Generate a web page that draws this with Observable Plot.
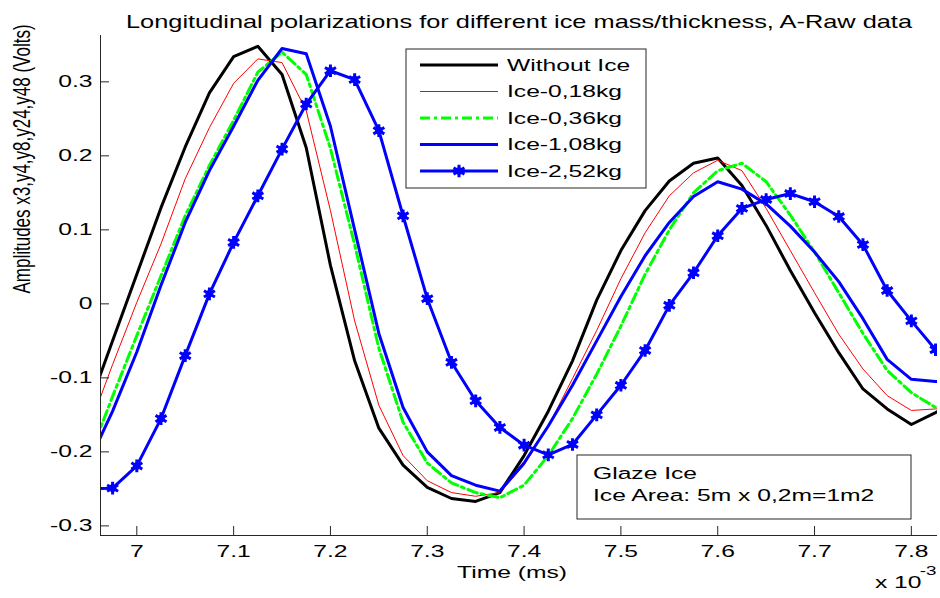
<!DOCTYPE html>
<html><head><meta charset="utf-8">
<script src="https://cdn.jsdelivr.net/npm/d3@7"></script>
<script src="https://cdn.jsdelivr.net/npm/@observablehq/plot@0.6"></script>
<style>
html,body{margin:0;padding:0;background:#fff;}
#chart{width:940px;height:598px;position:relative;}
</style></head><body><div id="chart"></div>
<script>
// ---- data (time in ms-scale units ×10^-3, amplitude in Volts) ----
const times = [6.95,6.975,7,7.025,7.05,7.075,7.1,7.125,7.15,7.175,7.2,7.225,7.25,7.275,7.3,7.325,7.35,7.375,7.4,7.425,7.45,7.475,7.5,7.525,7.55,7.575,7.6,7.625,7.65,7.675,7.7,7.725,7.75,7.775,7.8,7.825,7.85];
const withoutIce = [-0.14,-0.05,0.04,0.13,0.212,0.285,0.334,0.348,0.31,0.211,0.052,-0.077,-0.168,-0.218,-0.248,-0.263,-0.267,-0.255,-0.205,-0.145,-0.077,0.005,0.072,0.126,0.166,0.19,0.197,0.16,0.106,0.045,-0.012,-0.066,-0.115,-0.142,-0.163,-0.147,-0.13];
const ice018 = [-0.17,-0.082,0.002,0.081,0.169,0.238,0.298,0.331,0.326,0.261,0.126,-0.023,-0.137,-0.205,-0.239,-0.255,-0.26,-0.255,-0.218,-0.165,-0.101,-0.036,0.034,0.096,0.146,0.177,0.194,0.18,0.129,0.072,0.015,-0.041,-0.088,-0.124,-0.144,-0.142,-0.14];
const ice036 = [-0.21,-0.125,-0.043,0.038,0.119,0.187,0.248,0.313,0.34,0.31,0.21,0.08,-0.06,-0.16,-0.215,-0.242,-0.255,-0.262,-0.245,-0.205,-0.155,-0.095,-0.03,0.04,0.1,0.15,0.18,0.19,0.165,0.12,0.07,0.015,-0.04,-0.09,-0.12,-0.14,-0.15];
const ice108 = [-0.215,-0.145,-0.065,0.025,0.11,0.18,0.24,0.302,0.345,0.338,0.24,0.1,-0.04,-0.14,-0.2,-0.232,-0.245,-0.253,-0.215,-0.165,-0.11,-0.05,0.01,0.065,0.11,0.145,0.165,0.155,0.135,0.105,0.07,0.03,-0.02,-0.075,-0.102,-0.105,-0.105];
const ice252 = [-0.25,-0.249,-0.219,-0.155,-0.07,0.0135,0.083,0.146,0.209,0.27,0.315,0.303,0.234,0.119,0.007,-0.079,-0.131,-0.167,-0.191,-0.204,-0.19,-0.15,-0.11,-0.063,-0.002,0.042,0.092,0.129,0.141,0.149,0.138,0.118,0.08,0.018,-0.023,-0.062,-0.09];

const seriesNames = ["Without Ice","Ice-0,18kg","Ice-0,36kg","Ice-1,08kg","Ice-2,52kg"];
const seriesColors = ["#000000","#ff0000","#00ff00","#0000ff","#0000ff"];
const seriesWidths = [3,1,3,3,3];
const seriesDash = [null,null,"10,4,3,4",null,null];
const xTicks = [7,7.1,7.2,7.3,7.4,7.5,7.6,7.7,7.8];
const yTicks = [-0.3,-0.2,-0.1,0,0.1,0.2,0.3];
const xDomain = [6.9625,7.827];
const yDomain = [-0.313,0.3626];
const titleText = "Longitudinal polarizations for different ice mass/thickness, A-Raw data";
const xLabel = "Time (ms)";
const yLabel = "Amplitudes x3,y4,y8,y24,y48 (Volts)";
const noteLines = ["Glaze Ice","Ice Area: 5m x 0,2m=1m2"];

const FONT = "'Liberation Sans', Arial, Helvetica, sans-serif";
const SX = 1.45; // horizontal stretch of the original raster text
const AX = "#262626";
const W = 940, H = 598, ML = 100, MR = 3, MT = 35, MB = 63, TICK = 9;

const allSeries = [withoutIce, ice018, ice036, ice108, ice252];
const rows = vals => times.map((t,i) => ({t, v: vals[i]}));

const lineMarks = allSeries.map((vals,k) => Plot.line(rows(vals), {
  x: "t", y: "v", stroke: seriesColors[k], strokeWidth: seriesWidths[k],
  strokeDasharray: seriesDash[k], strokeLinejoin: "round", clip: true
}));

const plot = Plot.plot({
  width: W, height: H,
  marginLeft: ML, marginRight: MR, marginTop: MT, marginBottom: MB,
  style: {fontFamily: FONT, fontSize: "17px", color: "#000", background: "#fff", overflow: "visible"},
  x: {domain: xDomain, label: null},
  y: {domain: yDomain, label: null},
  marks: [
    ...lineMarks,
    Plot.dot(rows(ice252), {x: "t", y: "v", r: 3.8, fill: "#0000ff", stroke: "none", clip: true}),
    Plot.dot(rows(ice252), {x: "t", y: "v", symbol: "asterisk", r: 6, stroke: "#0000ff", strokeWidth: 3, clip: true}),
    Plot.ruleX([xDomain[0]], {stroke: AX, strokeWidth: 1}),
    Plot.ruleY([yDomain[0]], {stroke: AX, strokeWidth: 1}),
    // inward ticks
    Plot.tickX(xTicks, {x: d => d, stroke: AX, insetTop: (H - MT - MB) - TICK}),
    Plot.tickY(yTicks, {y: d => d, stroke: AX, insetRight: (W - ML - MR) - TICK}),
    Plot.axisX(xTicks, {tickSize: 0, tickPadding: 9, tickFormat: d => String(d), fill: "#000", label: null}),
    Plot.axisY(yTicks, {tickSize: 0, tickPadding: 8, tickFormat: d => String(d), fill: "#000", label: null}),
    Plot.text([titleText], {text: d => d, frameAnchor: "top", dy: -20, fontSize: 17.5, fill: "#000"}),
    Plot.text([xLabel], {text: d => d, frameAnchor: "bottom", dx: -7, dy: 42, fill: "#000"}),
    Plot.text([yLabel], {text: d => d, frameAnchor: "left", dx: -78, dy: 8, rotate: -90, fill: "#000"}),
    Plot.text(["x 10"], {text: d => d, frameAnchor: "bottom-right", textAnchor: "end", dx: -16, dy: 52, fill: "#000"}),
    Plot.text(["-3"], {text: d => d, frameAnchor: "bottom-right", textAnchor: "end", dx: -1, dy: 39, fontSize: 13, fill: "#000"})
  ]
});

const svg = d3.select(plot);

// Legend (built from the series definitions)
const lg = svg.append("g").attr("class","legend").attr("text-anchor","start");
const LX = 406, LY = 49, LW = 240, LH = 139, ROW = 26.5;
lg.append("rect").attr("x", LX).attr("y", LY).attr("width", LW).attr("height", LH)
  .attr("fill", "#fff").attr("stroke", AX).attr("stroke-width", 1);
seriesNames.forEach((name, k) => {
  const cy = LY + 16 + k*ROW;
  lg.append("line").attr("x1", LX+14).attr("x2", LX+92).attr("y1", cy).attr("y2", cy)
    .attr("stroke", seriesColors[k]).attr("stroke-width", seriesWidths[k])
    .attr("stroke-dasharray", seriesDash[k]);
  if (k === 4) {
    lg.append("circle").attr("cx", LX+53).attr("cy", cy).attr("r", 3.8).attr("fill", "#0000ff");
    lg.append("path").attr("d", d3.symbol(d3.symbolAsterisk, Math.PI*6*6)())
      .attr("transform", `translate(${LX+53},${cy})`).attr("fill", "none").attr("stroke","#0000ff").attr("stroke-width", 3);
  }
  lg.append("text").attr("transform", `translate(${LX+101},${cy})`).attr("dy","0.35em")
    .attr("fill","#000").attr("font-size", 17).text(name);
});

// Note box
const ng = svg.append("g").attr("class","note").attr("text-anchor","start");
ng.append("rect").attr("x", 577).attr("y", 455).attr("width", 334).attr("height", 64)
  .attr("fill", "#fff").attr("stroke", AX).attr("stroke-width", 1);
noteLines.forEach((s, i) => {
  ng.append("text").attr("transform", `translate(593,${479 + i*22})`)
    .attr("fill","#000").attr("font-size", 17).text(s);
});

// Stretch all text horizontally like the original (stretched) figure
svg.selectAll("text").each(function() {
  const tr = this.getAttribute("transform") || "";
  if (/rotate\(-90\)/.test(tr)) this.setAttribute("transform", tr + ` scale(1,${SX})`);
  else this.setAttribute("transform", tr + ` scale(${SX},1)`);
});

document.getElementById("chart").appendChild(plot);
</script>
</body></html>
